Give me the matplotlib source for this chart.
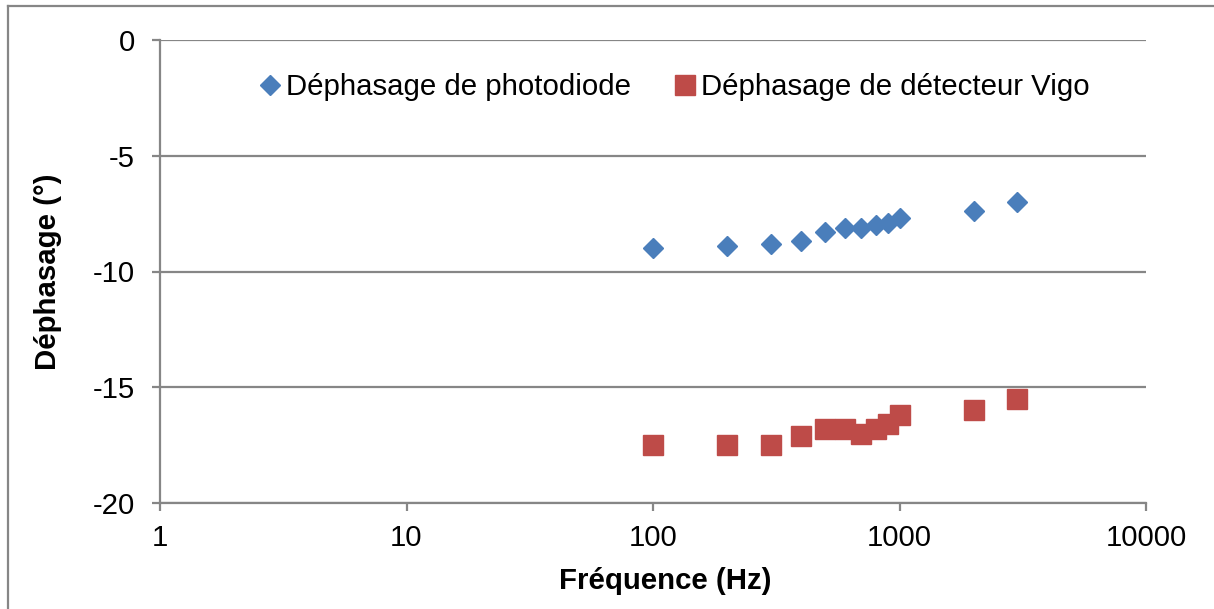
import matplotlib
matplotlib.use('Agg')
import matplotlib.pyplot as plt
from matplotlib.lines import Line2D
from matplotlib.ticker import FixedLocator, NullLocator

plt.rcParams['font.family'] = ['Liberation Sans', 'DejaVu Sans']
plt.rcParams['axes.unicode_minus'] = False

# data
freq = [100, 200, 300, 400, 500, 600, 700, 800, 900, 1000, 2000, 3000]
phase_photodiode = [-9.0, -8.9, -8.8, -8.7, -8.3, -8.1, -8.1, -8.0, -7.9, -7.7, -7.4, -7.0]
phase_vigo = [-17.5, -17.5, -17.5, -17.1, -16.8, -16.8, -17.0, -16.8, -16.6, -16.2, -16.0, -15.5]
x_ticks = [1, 10, 100, 1000, 10000]
y_ticks = [0, -5, -10, -15, -20]

blue = '#4A7EBB'
red = '#BE4B48'
gray = '#868686'
fs = 21.2

fig = plt.figure(figsize=(12.14, 6.09), dpi=100)
ax = fig.add_axes([160 / 1214, 1 - 503 / 609, 986 / 1214, 463 / 609])

ax.plot(freq, phase_photodiode, linestyle='none', marker='D', markersize=10.5,
        color=blue, label='Déphasage de photodiode')
ax.plot(freq, phase_vigo, linestyle='none', marker='s', markersize=14,
        color=red, label='Déphasage de détecteur Vigo')

ax.set_xscale('log')
ax.set_xlim(1, 10000)
ax.set_ylim(-20, 0)
ax.xaxis.set_major_locator(FixedLocator(x_ticks))
ax.xaxis.set_minor_locator(NullLocator())
ax.set_xticks(x_ticks)
ax.set_xticklabels([str(t) for t in x_ticks])
ax.set_yticks(y_ticks)
ax.set_yticklabels([str(t) for t in y_ticks])

ax.grid(axis='y', color=gray, linewidth=1.6)
ax.set_axisbelow(True)
for side in ['top', 'right']:
    ax.spines[side].set_visible(False)
for side in ['left', 'bottom']:
    ax.spines[side].set_color(gray)
    ax.spines[side].set_linewidth(1.6)
ax.tick_params(axis='both', colors=gray, length=6, width=1.6, labelsize=fs,
               labelcolor='black')
ax.tick_params(axis='x', pad=9)
ax.tick_params(axis='y', pad=12)

ax.set_xlabel('Fréquence (Hz)', fontsize=fs, fontweight='bold', labelpad=11)
ax.xaxis.label.set_x(0.512)
ax.set_ylabel('Déphasage (°)', fontsize=fs, fontweight='bold', labelpad=22)

ax.legend(loc='upper center', bbox_to_anchor=(0.519, 0.985), ncol=2, frameon=False,
          fontsize=fs, handletextpad=0.0, columnspacing=1.3, handlelength=1.1)

# outer chart border (cut off on right and bottom)
fig.add_artist(Line2D([8 / 1214, 1.0], [1 - 6 / 609, 1 - 6 / 609], color=gray,
                      linewidth=1.6, transform=fig.transFigure))
fig.add_artist(Line2D([8 / 1214, 8 / 1214], [0.0, 1 - 6 / 609], color=gray,
                      linewidth=1.6, transform=fig.transFigure))

fig.savefig('out.png', dpi=100)
